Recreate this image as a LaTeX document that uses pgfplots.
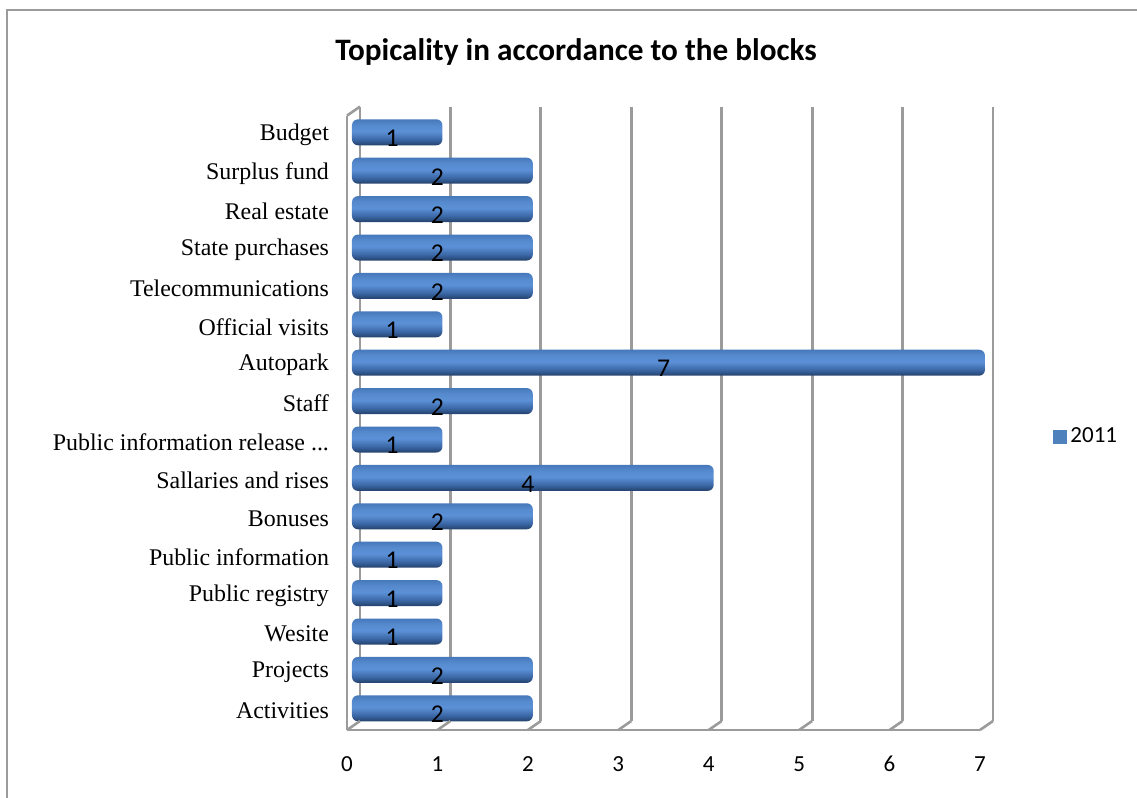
\documentclass[border=0pt]{standalone}
\usepackage{fontspec}
\setmainfont{Liberation Serif}
\newfontfamily\carlito{Carlito}
\usepackage{pgfplots}
\pgfplotsset{compat=1.18}

\definecolor{gridgray}{RGB}{155,155,155}
\definecolor{barmid}{RGB}{79,129,189}
\definecolor{bartop}{RGB}{70,121,186}
\definecolor{barlight}{RGB}{92,145,215}
\definecolor{barlight2}{RGB}{86,138,206}
\definecolor{barmid2}{RGB}{58,102,164}
\definecolor{bardark}{RGB}{36,64,106}

% cylinder look: the bar's height maps onto 25bp..75bp of the shading
\pgfdeclareverticalshading{cylbar}{100bp}{color(0bp)=(bardark); color(25bp)=(bardark);
  color(36bp)=(barmid2); color(52bp)=(barlight); color(64bp)=(barlight2);
  color(75bp)=(bartop); color(100bp)=(bartop)}

% one bar per \addplot, so that each bar gets its own shading
\pgfplotsset{cyl/.style={xbar, bar width=13pt, draw=none, rounded corners=3pt,
  shading=cylbar, xshift=2.5pt, yshift=1.25pt, forget plot,
  visualization depends on={x \as \rawx},
  nodes near coords,
  nodes near coords style={font=\carlito\fontsize{12.8pt}{14pt}\selectfont, text=black,
    anchor=center, shift={(axis direction cs:-0.5*\rawx,0)}, xshift=-2.5pt, yshift=-3pt}}}

\begin{document}
\begin{tikzpicture}
\useasboundingbox (0,0) rectangle (568.5pt,-399pt);
% outer frame (right and bottom edges are cut off in the reference)
\draw[gridgray, line width=1pt] (3.5pt,-399pt) -- (3.5pt,-5pt) -- (568.5pt,-5pt);
% title
\node[font=\carlito\bfseries\fontsize{15.6pt}{18pt}\selectfont] at (288pt,-26pt)
  {Topicality in accordance to the blocks};

\begin{axis}[
  at={(173.5pt,-365pt)}, anchor=south west,
  scale only axis, width=316.5pt, height=307.2pt,
  clip=false,
  xmin=0, xmax=7, ymin=-0.5, ymax=15.5,
  xtick={0,...,7},
  ytick={0,...,15},
  yticklabels={Activities,Projects,Wesite,Public registry,Public information,Bonuses,
    Sallaries and rises,Public information release .{}.{}.,Staff,Autopark,Official visits,
    Telecommunications,State purchases,Real estate,Surplus fund,Budget},
  major tick length=0pt,
  axis x line*=bottom, axis y line*=left,
  axis line style={gridgray, line width=1.3pt, -},
  xmajorgrids,
  major grid style={gridgray, line width=1.4pt, xshift=6.5pt, yshift=4.5pt},
  /pgf/number format/assume math mode=true,
  xticklabel style={font=\carlito\fontsize{11.5pt}{13pt}\selectfont, anchor=base, yshift=-20.5pt},
  yticklabel style={font=\fontsize{11.95pt}{13pt}\selectfont, anchor=east, xshift=-5.5pt},
  legend style={at={(1.105,0.477)}, anchor=west, draw=none, fill=none,
    font=\carlito\fontsize{11.5pt}{13pt}\selectfont},
]
\addplot[cyl] coordinates {(2,0)};  % Activities
\addplot[cyl] coordinates {(2,1)};  % Projects
\addplot[cyl] coordinates {(1,2)};  % Wesite
\addplot[cyl] coordinates {(1,3)};  % Public registry
\addplot[cyl] coordinates {(1,4)};  % Public information
\addplot[cyl] coordinates {(2,5)};  % Bonuses
\addplot[cyl] coordinates {(4,6)};  % Sallaries and rises
\addplot[cyl] coordinates {(1,7)};  % Public information release
\addplot[cyl] coordinates {(2,8)};  % Staff
\addplot[cyl] coordinates {(7,9)};  % Autopark
\addplot[cyl] coordinates {(1,10)}; % Official visits
\addplot[cyl] coordinates {(2,11)}; % Telecommunications
\addplot[cyl] coordinates {(2,12)}; % State purchases
\addplot[cyl] coordinates {(2,13)}; % Real estate
\addplot[cyl] coordinates {(2,14)}; % Surplus fund
\addplot[cyl] coordinates {(1,15)}; % Budget
\addlegendimage{legend image code/.code={\fill[barmid, sharp corners] (0pt,-3.2pt) rectangle (6.4pt,3.2pt);}}
\addlegendentry{2011}
% 3-D floor and wall edges
\pgfplotsinvokeforeach{0,...,7}{
  \draw[gridgray, line width=1.3pt] (axis cs:#1,-0.5) -- ++(6.5pt,4.5pt);
}
\draw[gridgray, line width=1.3pt] (axis cs:0,15.5) -- ++(6.5pt,4.5pt);
\end{axis}
\end{tikzpicture}
\end{document}
